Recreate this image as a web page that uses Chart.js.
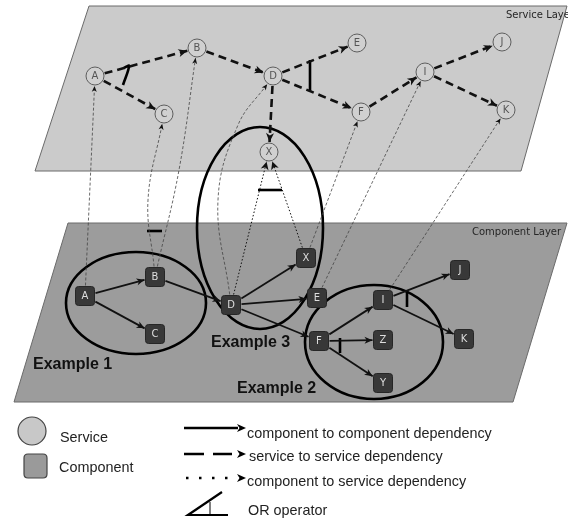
<!DOCTYPE html>
<html>
<head>
<meta charset="utf-8">
<script src="https://cdn.jsdelivr.net/npm/chart.js@4.4.0/dist/chart.umd.min.js"></script>
<style>
  html, body { margin: 0; padding: 0; background: #fff; }
  #wrap { width: 568px; height: 520px; }
</style>
</head>
<body>
<div id="wrap"><canvas id="diagram" width="568" height="520"></canvas></div>
<script>
// layer planes (corners in chart units)
const serviceLayer = [[89, 6], [567, 6], [521, 171], [35, 171]];
const componentLayer = [[68, 223], [567, 223], [513, 402], [14, 402]];

// service nodes
const serviceNames = ['A', 'B', 'C', 'D', 'X', 'E', 'F', 'I', 'J', 'K'];
const serviceX = [95, 197, 164, 273, 269, 357, 361, 425, 502, 506];
const serviceY = [76, 48, 114, 76, 152, 43, 112, 72, 42, 110];

// component nodes
const componentNames = ['A', 'B', 'C', 'D', 'X', 'E', 'F', 'I', 'Z', 'Y', 'J', 'K'];
const componentX = [85, 155, 155, 231, 306, 317, 319, 383, 383, 383, 460, 464];
const componentY = [296, 277, 334, 305, 258, 298, 341, 300, 340, 383, 270, 339];

// dependencies
const serviceEdges = [['A', 'B'], ['A', 'C'], ['B', 'D'], ['D', 'E'], ['D', 'F'], ['D', 'X'], ['F', 'I'], ['I', 'J'], ['I', 'K']];
const componentEdges = [['A', 'B'], ['A', 'C'], ['B', 'D'], ['D', 'X'], ['D', 'E'], ['D', 'F'], ['F', 'I'], ['F', 'Z'], ['F', 'Y'], ['I', 'J'], ['I', 'K']];
// component -> service (bend points for the curved ones)
const crossFrom = ['A', 'B', 'B', 'D', 'D', 'X', 'X', 'E', 'I'];
const crossTo = ['A', 'C', 'B', 'D', 'X', 'X', 'F', 'I', 'K'];
const crossBends = [[], [[148, 200]], [[179, 170]], [[218, 200], [238, 125]], [], [], [], [], []];
const crossDotted = [false, false, false, false, true, true, false, false, false];

// OR operator bars
const orBars = [
  [[124, 68], [129, 66], [123, 85]],
  [[310, 60], [310, 91]],
  [[258, 190], [282, 190]],
  [[147, 231], [162, 231]],
  [[340, 338], [340, 353]],
  [[407, 290], [407, 307]]
];

// example groupings
const exampleNames = ['Example 1', 'Example 3', 'Example 2'];
const exampleCX = [136, 260, 374];
const exampleCY = [303, 228, 342];
const exampleRX = [70, 63, 69];
const exampleRY = [51, 101, 57];
const exampleLabelX = [33, 211, 237];
const exampleLabelY = [365, 343, 389];

// legend
const legendNodeLabels = ['Service', 'Component'];
const legendLineLabels = ['component to component dependency', 'service to service dependency', 'component to service dependency', 'OR operator'];

const SERVICE_R = 9;
const COMP_H = 9.5;

function trimEnd(p, q, shape) {
  const dx = q[0] - p[0], dy = q[1] - p[1];
  const d = Math.hypot(dx, dy);
  const ux = dx / d, uy = dy / d;
  const t = shape === 'circle' ? SERVICE_R + 1 : COMP_H / Math.max(Math.abs(ux), Math.abs(uy)) + 1;
  return [p[0] + ux * t, p[1] + uy * t];
}

const svc = n => { const i = serviceNames.indexOf(n); return [serviceX[i], serviceY[i]]; };
const comp = n => { const i = componentNames.indexOf(n); return [componentX[i], componentY[i]]; };

function lineSet(pts, color, width, dash, arrow) {
  return {
    data: pts.map(p => ({ x: p[0], y: p[1] })),
    showLine: true,
    pointRadius: 0,
    borderColor: color,
    borderWidth: width,
    borderDash: dash,
    borderCapStyle: 'butt',
    tension: pts.length > 2 ? 0.4 : 0,
    fill: false,
    clip: false,
    order: 2,
    arrow: arrow
  };
}

const datasets = [];

// nodes on top (lowest order drawn last)
function boxImage() {
  const c = document.createElement('canvas');
  c.width = 20; c.height = 20;
  const g = c.getContext('2d');
  g.beginPath();
  g.moveTo(3.5, 0.5); g.lineTo(16.5, 0.5); g.quadraticCurveTo(19.5, 0.5, 19.5, 3.5);
  g.lineTo(19.5, 16.5); g.quadraticCurveTo(19.5, 19.5, 16.5, 19.5);
  g.lineTo(3.5, 19.5); g.quadraticCurveTo(0.5, 19.5, 0.5, 16.5);
  g.lineTo(0.5, 3.5); g.quadraticCurveTo(0.5, 0.5, 3.5, 0.5);
  g.fillStyle = '#383838';
  g.fill();
  g.strokeStyle = '#262626';
  g.stroke();
  return c;
}

datasets.push({
  data: serviceX.map((x, i) => ({ x: x, y: serviceY[i] })),
  pointStyle: 'circle',
  pointRadius: SERVICE_R,
  backgroundColor: '#d0d0d0',
  borderColor: '#5e5e5e',
  borderWidth: 1,
  clip: false,
  order: 0
});
datasets.push({
  data: componentX.map((x, i) => ({ x: x, y: componentY[i] })),
  pointStyle: boxImage(),
  pointRadius: 10,
  clip: false,
  order: 0
});

serviceEdges.forEach(e => {
  const p = svc(e[0]), q = svc(e[1]);
  datasets.push(lineSet([trimEnd(p, q, 'circle'), trimEnd(q, p, 'circle')], '#111', 2.6, [8, 5], { len: 9, w: 4 }));
});

componentEdges.forEach(e => {
  const p = comp(e[0]), q = comp(e[1]);
  datasets.push(lineSet([trimEnd(p, q, 'box'), trimEnd(q, p, 'box')], '#111', 1.8, [], { len: 8, w: 3.5 }));
});

crossFrom.forEach((f, i) => {
  const p = comp(f), q = svc(crossTo[i]);
  const bends = crossBends[i];
  const first = bends.length ? bends[0] : q;
  const last = bends.length ? bends[bends.length - 1] : p;
  const pts = [trimEnd(p, first, 'box')].concat(bends, [trimEnd(q, last, 'circle')]);
  if (crossDotted[i]) {
    datasets.push(lineSet(pts, '#111', 1, [1.5, 2], { len: 8, w: 4 }));
  } else {
    datasets.push(lineSet(pts, '#444', 0.8, [3, 2], { len: 6, w: 2.5 }));
  }
});

orBars.forEach(b => {
  datasets.push(lineSet(b, '#000', 2.6, [], null));
});

function arrowHead(ctx, x1, y1, x2, y2, len, w, color) {
  const a = Math.atan2(y2 - y1, x2 - x1);
  ctx.save();
  ctx.translate(x2, y2);
  ctx.rotate(a);
  ctx.beginPath();
  ctx.moveTo(0, 0);
  ctx.lineTo(-len, w);
  ctx.lineTo(-len * 0.72, 0);
  ctx.lineTo(-len, -w);
  ctx.closePath();
  ctx.fillStyle = color;
  ctx.fill();
  ctx.restore();
}

function polygon(ctx, xs, ys, pts, fillColor) {
  ctx.beginPath();
  pts.forEach((p, i) => {
    const px = xs.getPixelForValue(p[0]), py = ys.getPixelForValue(p[1]);
    if (i === 0) ctx.moveTo(px, py); else ctx.lineTo(px, py);
  });
  ctx.closePath();
  ctx.fillStyle = fillColor;
  ctx.fill();
  ctx.strokeStyle = '#6a6a6a';
  ctx.lineWidth = 1;
  ctx.stroke();
}

const diagramPlugin = {
  id: 'diagram',
  beforeDatasetsDraw(chart) {
    const ctx = chart.ctx;
    const xs = chart.scales.x, ys = chart.scales.y;
    ctx.save();
    polygon(ctx, xs, ys, serviceLayer, '#cbcbcb');
    polygon(ctx, xs, ys, componentLayer, '#9c9c9c');

    ctx.font = '10px "DejaVu Sans"';
    ctx.fillStyle = '#262626';
    ctx.textBaseline = 'middle';
    ctx.textAlign = 'left';
    ctx.fillText('Service Layer', xs.getPixelForValue(506), ys.getPixelForValue(15));
    ctx.fillText('Component Layer', xs.getPixelForValue(472), ys.getPixelForValue(232));

    // example groupings
    ctx.strokeStyle = '#000';
    ctx.lineWidth = 2.6;
    exampleNames.forEach((n, i) => {
      const cx = xs.getPixelForValue(exampleCX[i]), cy = ys.getPixelForValue(exampleCY[i]);
      const rx = Math.abs(xs.getPixelForValue(exampleCX[i] + exampleRX[i]) - cx);
      const ry = Math.abs(ys.getPixelForValue(exampleCY[i] + exampleRY[i]) - cy);
      ctx.beginPath();
      ctx.ellipse(cx, cy, rx, ry, 0, 0, Math.PI * 2);
      ctx.stroke();
    });
    ctx.font = 'bold 16px "Liberation Sans"';
    ctx.fillStyle = '#111';
    exampleNames.forEach((n, i) => {
      ctx.fillText(n, xs.getPixelForValue(exampleLabelX[i]), ys.getPixelForValue(exampleLabelY[i]));
    });
    ctx.restore();
  },
  afterDatasetsDraw(chart) {
    const ctx = chart.ctx;
    ctx.save();
    chart.data.datasets.forEach((ds, i) => {
      if (!ds.arrow) return;
      const els = chart.getDatasetMeta(i).data;
      const a = els[els.length - 2], b = els[els.length - 1];
      arrowHead(ctx, a.x, a.y, b.x, b.y, ds.arrow.len, ds.arrow.w, '#111');
    });

    // node labels
    ctx.textAlign = 'center';
    ctx.textBaseline = 'middle';
    ctx.font = '10px "DejaVu Sans"';
    ctx.fillStyle = '#555';
    chart.getDatasetMeta(0).data.forEach((el, i) => ctx.fillText(serviceNames[i], el.x, el.y + 0.5));
    ctx.fillStyle = '#dedede';
    chart.getDatasetMeta(1).data.forEach((el, i) => ctx.fillText(componentNames[i], el.x, el.y + 0.5));
    ctx.restore();
  },
  afterDraw(chart) {
    const ctx = chart.ctx;
    ctx.save();
    // node legend
    ctx.beginPath();
    ctx.arc(32, 431, 14, 0, Math.PI * 2);
    ctx.fillStyle = '#c8c8c8';
    ctx.fill();
    ctx.strokeStyle = '#444';
    ctx.lineWidth = 1.2;
    ctx.stroke();
    ctx.beginPath();
    ctx.moveTo(28, 454); ctx.lineTo(43, 454); ctx.quadraticCurveTo(47, 454, 47, 458);
    ctx.lineTo(47, 474); ctx.quadraticCurveTo(47, 478, 43, 478);
    ctx.lineTo(28, 478); ctx.quadraticCurveTo(24, 478, 24, 474);
    ctx.lineTo(24, 458); ctx.quadraticCurveTo(24, 454, 28, 454);
    ctx.fillStyle = '#9a9a9a';
    ctx.fill();
    ctx.stroke();

    ctx.font = '14.4px "Liberation Sans"';
    ctx.fillStyle = '#222';
    ctx.textAlign = 'left';
    ctx.textBaseline = 'middle';
    ctx.fillText(legendNodeLabels[0], 60, 438);
    ctx.fillText(legendNodeLabels[1], 59, 468);

    // line legend
    ctx.strokeStyle = '#000';
    ctx.lineWidth = 2.6;
    ctx.beginPath(); ctx.moveTo(184, 428); ctx.lineTo(238, 428); ctx.stroke();
    arrowHead(ctx, 184, 428, 246, 428, 9, 4, '#000');
    ctx.setLineDash([20, 9]);
    ctx.beginPath(); ctx.moveTo(184, 454); ctx.lineTo(232, 454); ctx.stroke();
    arrowHead(ctx, 184, 454, 246, 454, 9, 4, '#000');
    ctx.setLineDash([2.5, 10.5]);
    ctx.beginPath(); ctx.moveTo(186, 478); ctx.lineTo(234, 478); ctx.stroke();
    arrowHead(ctx, 184, 478, 246, 478, 9, 4, '#000');
    ctx.setLineDash([]);
    ctx.lineWidth = 2.2;
    ctx.beginPath(); ctx.moveTo(222, 492); ctx.lineTo(188, 515); ctx.lineTo(228, 515); ctx.stroke();
    ctx.lineWidth = 1;
    ctx.beginPath(); ctx.moveTo(210, 502); ctx.lineTo(210, 515); ctx.stroke();

    ctx.fillText(legendLineLabels[0], 247, 434);
    ctx.fillText(legendLineLabels[1], 249, 457);
    ctx.fillText(legendLineLabels[2], 247, 482);
    ctx.fillText(legendLineLabels[3], 248, 511);
    ctx.restore();
  }
};

new Chart(document.getElementById('diagram'), {
  type: 'scatter',
  data: { datasets: datasets },
  options: {
    responsive: false,
    animation: false,
    events: [],
    layout: { padding: 0, autoPadding: false },
    scales: {
      x: { type: 'linear', min: 0, max: 568, display: false },
      y: { type: 'linear', min: 0, max: 520, reverse: true, display: false }
    },
    plugins: {
      legend: { display: false },
      tooltip: { enabled: false }
    }
  },
  plugins: [diagramPlugin]
});
</script>
</body>
</html>
